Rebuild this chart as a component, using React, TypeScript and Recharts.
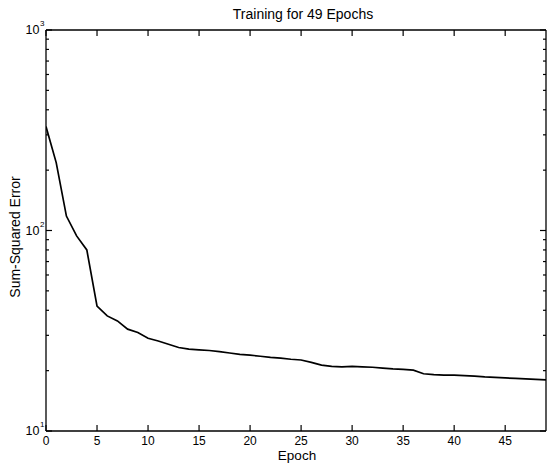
import React from 'react';
import { LineChart, Line, XAxis, YAxis } from 'recharts';

const epochs = [
  0, 1, 2, 3, 4, 5, 6, 7, 8, 9, 10, 11, 12, 13, 14, 15, 16, 17, 18, 19, 20, 21, 22, 23, 24,
  25, 26, 27, 28, 29, 30, 31, 32, 33, 34, 35, 36, 37, 38, 39, 40, 41, 42, 43, 44, 45, 46, 47, 48, 49,
];
const sse = [
  330, 218, 118, 94, 80, 42, 37.5, 35.4, 32.2, 31.0, 29.0, 28.1, 27.1, 26.1, 25.6, 25.4, 25.2,
  24.9, 24.5, 24.1, 23.9, 23.6, 23.3, 23.1, 22.8, 22.6, 22.0, 21.3, 21.0, 20.9, 21.0, 20.9, 20.8,
  20.6, 20.4, 20.3, 20.1, 19.3, 19.1, 19.0, 19.0, 18.9, 18.8, 18.6, 18.5, 18.4, 18.3, 18.2, 18.1,
  18.0,
];
const xTicks = [0, 5, 10, 15, 20, 25, 30, 35, 40, 45];
const yMajor = [10, 100, 1000];
const yTicks = [
  10, 20, 30, 40, 50, 60, 70, 80, 90, 100, 200, 300, 400, 500, 600, 700, 800, 900, 1000,
];
const title = 'Training for 49 Epochs';
const xLabel = 'Epoch';
const yLabel = 'Sum-Squared Error';

const data = epochs.map((e, i) => ({ epoch: e, sse: sse[i] }));

const FONT = 'Helvetica, "Liberation Sans", Arial, sans-serif';
const MAJOR = 6;
const MINOR = 3;
const AXIS_LINE = { stroke: '#000', strokeWidth: 1.3 };

const BottomTick = (props: any) => {
  const { x, y, payload } = props;
  return (
    <g>
      <line x1={x} y1={y} x2={x} y2={y - MAJOR} stroke="#000" strokeWidth={1.2} />
      <text x={x} y={y + 14} textAnchor="middle" fontFamily={FONT} fontSize={12} fill="#000">
        {payload.value}
      </text>
    </g>
  );
};

const TopTick = (props: any) => {
  const { x, y } = props;
  return <line x1={x} y1={y} x2={x} y2={y + MAJOR} stroke="#000" strokeWidth={1.2} />;
};

const exponent = (v: number) => Math.round(Math.log10(v));

const LeftTick = (props: any) => {
  const { x, y, payload } = props;
  const isMajor = yMajor.includes(payload.value);
  return (
    <g>
      <line x1={x} y1={y} x2={x + (isMajor ? MAJOR : MINOR)} y2={y} stroke="#000" strokeWidth={1.2} />
      {isMajor && (
        <text x={x - 6.5} y={y + 4} textAnchor="end" fontFamily={FONT} fontSize={12.5} fill="#000">
          10
        </text>
      )}
      {isMajor && (
        <text x={x - 6} y={y - 4} textAnchor="start" fontFamily={FONT} fontSize={8} fill="#000">
          {exponent(payload.value)}
        </text>
      )}
    </g>
  );
};

const RightTick = (props: any) => {
  const { x, y, payload } = props;
  const isMajor = yMajor.includes(payload.value);
  return <line x1={x} y1={y} x2={x - (isMajor ? MAJOR : MINOR)} y2={y} stroke="#000" strokeWidth={1.2} />;
};

export default function App() {
  return (
    <div style={{ position: 'absolute', left: 0, top: 0, width: 547, height: 464, background: '#fff' }}>
      <LineChart
        width={547}
        height={464}
        data={data}
        margin={{ top: 29, right: 0, bottom: 0, left: 6 }}
      >
        <XAxis
          xAxisId="b"
          dataKey="epoch"
          type="number"
          domain={[0, 49]}
          ticks={xTicks}
          interval={0}
          allowDataOverflow
          height={33}
          tickSize={0}
          tickMargin={0}
          tickLine={false}
          axisLine={AXIS_LINE}
          tick={<BottomTick />}
        />
        <XAxis
          xAxisId="t"
          orientation="top"
          dataKey="epoch"
          type="number"
          domain={[0, 49]}
          ticks={xTicks}
          interval={0}
          allowDataOverflow
          height={1}
          tickSize={0}
          tickMargin={0}
          tickLine={false}
          axisLine={AXIS_LINE}
          tick={<TopTick />}
        />
        <YAxis
          yAxisId="l"
          type="number"
          scale="log"
          domain={[10, 1000]}
          ticks={yTicks}
          interval={0}
          allowDataOverflow
          width={40}
          tickSize={0}
          tickMargin={0}
          tickLine={false}
          axisLine={AXIS_LINE}
          tick={<LeftTick />}
        />
        <YAxis
          yAxisId="r"
          orientation="right"
          type="number"
          scale="log"
          domain={[10, 1000]}
          ticks={yTicks}
          interval={0}
          allowDataOverflow
          width={1}
          tickSize={0}
          tickMargin={0}
          tickLine={false}
          axisLine={AXIS_LINE}
          tick={<RightTick />}
        />
        <Line
          xAxisId="b"
          yAxisId="l"
          dataKey="sse"
          type="linear"
          stroke="#000"
          strokeWidth={1.7}
          dot={false}
          isAnimationActive={false}
        />
      </LineChart>
      <div
        style={{
          position: 'absolute', left: 203, width: 200, top: 6, textAlign: 'center',
          fontFamily: FONT, fontSize: 14, lineHeight: '17px', color: '#000', whiteSpace: 'nowrap',
        }}
      >
        {title}
      </div>
      <div
        style={{
          position: 'absolute', left: 197, width: 200, top: 449, textAlign: 'center',
          fontFamily: FONT, fontSize: 13.5, lineHeight: '14px', color: '#000',
        }}
      >
        {xLabel}
      </div>
      <div style={{ position: 'absolute', left: 15, top: 237, width: 0, height: 0 }}>
        <div
          style={{
            position: 'absolute', left: -100, top: -8, width: 200, textAlign: 'center',
            transform: 'rotate(-90deg)', fontFamily: FONT, fontSize: 14, lineHeight: '16px',
            color: '#000', whiteSpace: 'nowrap',
          }}
        >
          {yLabel}
        </div>
      </div>
    </div>
  );
}
